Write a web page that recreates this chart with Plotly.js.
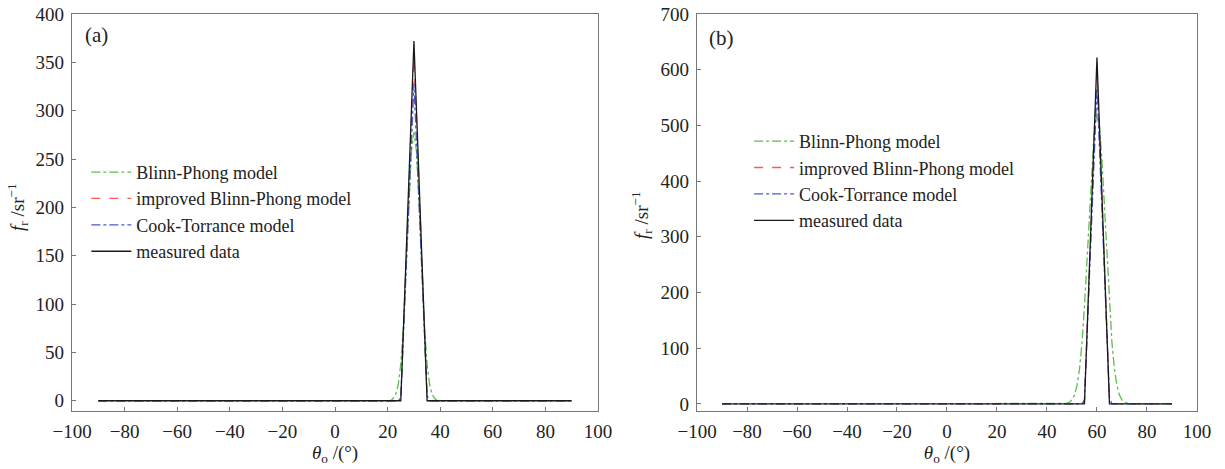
<!DOCTYPE html>
<html>
<head>
<meta charset="utf-8">
<script src="https://cdn.plot.ly/plotly-3.0.1.min.js"></script>
<style>html,body{margin:0;padding:0;background:#fff;}#chart{width:1225px;height:469px;}</style>
</head>
<body>
<div id="chart"></div>
<script>
// ---------- Panel (a): peak at 30° ----------
const xA = [-90, 20, 21, 22, 23, 24, 25, 26, 27, 28, 29, 30, 31, 32, 33, 34, 35, 36, 37, 38, 39, 40, 90];
const blinnA    = [0, 0, 0, 2, 6, 16, 38, 77, 135, 202, 257, 278, 257, 202, 135, 77, 38, 16, 6, 2, 0, 0, 0];
const improvedA = [0, 0, 0, 0, 0, 0, 2, 72, 144, 216, 288, 355, 288, 216, 144, 72, 4, 0, 0, 0, 0, 0, 0];
const cookA     = [0, 0, 0, 0, 0, 0, 3, 66, 132, 198, 264, 328, 264, 198, 132, 66, 5, 0, 0, 0, 0, 0, 0];
const measuredA = [0, 0, 0, 0, 0, 0, 0, 74, 149, 223, 298, 372, 298, 223, 149, 74, 0, 0, 0, 0, 0, 0, 0];

// ---------- Panel (b): peak at 60° ----------
const xB = [-90, 46, 47, 48, 49, 50, 51, 52, 53, 54, 55, 56, 57, 58, 59, 60, 61, 62, 63, 64, 65, 66, 67, 68, 69, 70, 71, 72, 73, 74, 90];
const blinnB    = [0, 0, 0, 1, 3, 7, 16, 33, 62, 109, 176, 260, 352, 437, 498, 520, 498, 437, 352, 260, 176, 109, 62, 33, 16, 7, 3, 1, 0, 0, 0];
const improvedB = [0, 0, 0, 0, 0, 0, 0, 0, 0, 0, 5, 125, 245, 365, 485, 595, 485, 365, 245, 125, 8, 0, 0, 0, 0, 0, 0, 0, 0, 0, 0];
const cookB     = [0, 0, 0, 0, 0, 0, 0, 0, 0, 0, 8, 118, 232, 346, 460, 567, 460, 346, 232, 118, 12, 0, 0, 0, 0, 0, 0, 0, 0, 0, 0];
const measuredB = [0, 0, 0, 0, 0, 0, 0, 0, 0, 0, 0, 124, 249, 373, 498, 622, 498, 373, 249, 124, 0, 0, 0, 0, 0, 0, 0, 0, 0, 0, 0];

const names = ['Blinn-Phong model', 'improved Blinn-Phong model', 'Cook-Torrance model', 'measured data'];
const xTicks = [-100, -80, -60, -40, -20, 0, 20, 40, 60, 80, 100];
const yTicksA = [0, 50, 100, 150, 200, 250, 300, 350, 400];
const yTicksB = [0, 100, 200, 300, 400, 500, 600, 700];
const panelLabels = ['(a)', '(b)'];
const yTitleText = '<i>f</i><sub>r</sub> /sr<sup>−1</sup>';
const xTitleText = '<i>θ</i><sub>o</sub> /(°)';

const styles = [
  {color: '#5cbf4a', dash: 'dashdot', width: 1.3},
  {color: '#ff5a4a', dash: 'dash', width: 1.3},
  {color: '#4a5ad8', dash: 'dashdot', width: 1.3},
  {color: '#1a1a1a', dash: 'solid', width: 1.3}
];

function mk(x, ys, xa, ya, leg) {
  return ys.map((y, i) => ({
    x: x, y: y, type: 'scatter', mode: 'lines', name: names[i],
    xaxis: xa, yaxis: ya, legend: leg,
    line: Object.assign({}, styles[i])
  }));
}
const traces = [].concat(
  mk(xA, [blinnA, improvedA, cookA, measuredA], 'x', 'y', 'legend'),
  mk(xB, [blinnB, improvedB, cookB, measuredB], 'x2', 'y2', 'legend2')
);

const FONT = 'Liberation Serif, DejaVu Serif, serif';
const TXT = '#222';
const axisCommon = {
  showgrid: false, zeroline: false, showline: true, mirror: true,
  linecolor: '#777', linewidth: 1.2, ticks: 'inside', ticklen: 4, tickcolor: '#777',
  ticklabelstandoff: 3,
  tickfont: {family: FONT, size: 19, color: TXT}
};
const xTitle = {text: xTitleText, font: {family: FONT, size: 19, color: TXT}, standoff: 4};
const fmt = v => v < 0 ? '−' + (-v) : String(v);

const legendCommon = {xanchor: 'left', yanchor: 'top', bgcolor: 'rgba(0,0,0,0)', borderwidth: 0,
  itemwidth: 40, font: {family: FONT, size: 18, color: TXT}, tracegroupgap: 0};

const layout = {
  width: 1225, height: 469,
  margin: {l: 0, r: 0, t: 0, b: 0},
  paper_bgcolor: '#fff', plot_bgcolor: '#fff',
  font: {family: FONT, size: 18, color: TXT},
  xaxis: Object.assign({}, axisCommon, {domain: [0.0588, 0.4882], range: [-100, 100], tickvals: xTicks, ticktext: xTicks.map(fmt), title: xTitle, anchor: 'y'}),
  yaxis: Object.assign({}, axisCommon, {domain: [0.1237, 0.9701], range: [-10.6, 400], tickvals: yTicksA, anchor: 'x'}),
  xaxis2: Object.assign({}, axisCommon, {domain: [0.569, 0.9771], range: [-100, 100], tickvals: xTicks, ticktext: xTicks.map(fmt), title: xTitle, anchor: 'y2'}),
  yaxis2: Object.assign({}, axisCommon, {domain: [0.1237, 0.9701], range: [-12.6, 700], tickvals: yTicksB, anchor: 'x2'}),
  legend: Object.assign({}, legendCommon, {x: 0.0705, y: 0.672}),
  legend2: Object.assign({}, legendCommon, {x: 0.6115, y: 0.738}),
  showlegend: true,
  annotations: [
    {text: panelLabels[0], x: 83 / 1225, y: 1 - 35 / 469, xref: 'paper', yref: 'paper', xanchor: 'left', yanchor: 'middle', showarrow: false, font: {family: FONT, size: 21, color: TXT}},
    {text: panelLabels[1], x: 707 / 1225, y: 1 - 38 / 469, xref: 'paper', yref: 'paper', xanchor: 'left', yanchor: 'middle', showarrow: false, font: {family: FONT, size: 21, color: TXT}},
    {text: yTitleText, textangle: -90, x: 17 / 1225, y: 1 - 207 / 469, xref: 'paper', yref: 'paper', xanchor: 'center', yanchor: 'middle', showarrow: false, font: {family: FONT, size: 19, color: TXT}},
    {text: yTitleText, textangle: -90, x: 641 / 1225, y: 1 - 215 / 469, xref: 'paper', yref: 'paper', xanchor: 'center', yanchor: 'middle', showarrow: false, font: {family: FONT, size: 19, color: TXT}}
  ]
};

Plotly.newPlot('chart', traces, layout, {displayModeBar: false, staticPlot: true});
</script>
</body>
</html>
